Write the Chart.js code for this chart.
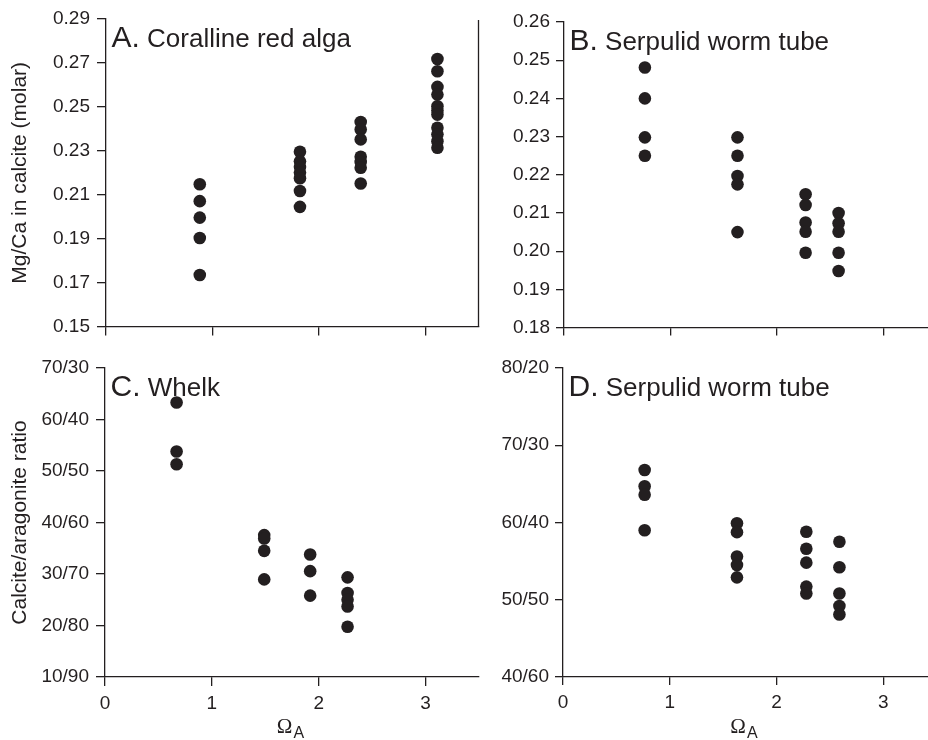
<!DOCTYPE html>
<html lang="en">
<head>
<meta charset="UTF-8">
<title>Mg/Ca and calcite/aragonite ratio vs ΩA</title>
<script src="https://cdn.jsdelivr.net/npm/chart.js"></script>
<style>
  body { margin: 0; background: #fff; }
  .wrap { position: relative; width: 928px; height: 740px; overflow: hidden; }
  .panel { position: absolute; }
  .panel canvas { display: block; }
  #pA { left: 0; top: 0; }
  #pB { left: 480px; top: 0; }
  #pC { left: 0; top: 345px; }
  #pD { left: 480px; top: 345px; }
</style>
</head>
<body>
<div class="wrap">
  <div class="panel" id="pA"><canvas id="chartA" width="480" height="345"></canvas></div>
  <div class="panel" id="pB"><canvas id="chartB" width="448" height="345"></canvas></div>
  <div class="panel" id="pC"><canvas id="chartC" width="480" height="395"></canvas></div>
  <div class="panel" id="pD"><canvas id="chartD" width="448" height="395"></canvas></div>
</div>
<script>
// saturation state (ΩA) of each treatment group, per panel
const omegaAlga = [0.88, 1.82, 2.39, 3.11];
const omegaSerpB = [0.76, 1.63, 2.27, 2.58];
const omegaWhelk = [0.67, 1.49, 1.92, 2.27];
const omegaSerpD = [0.765, 1.63, 2.28, 2.59];

// A. Mg/Ca in calcite, coralline red alga
const mgCaAlga = [
  [0.2148, 0.2071, 0.1996, 0.1903, 0.1735],
  [0.2296, 0.2252, 0.2226, 0.2201, 0.2175, 0.2117, 0.2045],
  [0.2431, 0.2397, 0.2352, 0.2273, 0.2249, 0.2223, 0.2151],
  [0.2718, 0.2662, 0.2591, 0.2556, 0.2503, 0.2484, 0.2465, 0.2405, 0.2375, 0.2344, 0.2314]
];
// B. Mg/Ca in calcite, serpulid worm tube
const mgCaSerpulid = [
  [0.2481, 0.2400, 0.2298, 0.2250],
  [0.2298, 0.2250, 0.2197, 0.2175, 0.2050],
  [0.2149, 0.2121, 0.2075, 0.2051, 0.1996],
  [0.2100, 0.2073, 0.2051, 0.1996, 0.1948]
];
// C. % calcite (calcite/aragonite), whelk
const calciteWhelk = [
  [63.3, 53.8, 51.3],
  [37.55, 36.9, 34.5, 28.95],
  [33.8, 30.55, 25.8],
  [29.35, 26.3, 25.0, 23.7, 19.75]
];
// D. % calcite (calcite/aragonite), serpulid worm tube
const calciteSerpulid = [
  [66.8, 64.7, 63.6, 59.0],
  [59.9, 58.75, 55.6, 54.5, 52.9],
  [58.8, 56.6, 54.8, 51.7, 50.8],
  [57.5, 54.2, 50.8, 49.2, 48.1]
];

const xTicks = [0, 1, 2, 3];
const yTicksA = [0.15, 0.17, 0.19, 0.21, 0.23, 0.25, 0.27, 0.29];
const yTicksB = [0.18, 0.19, 0.20, 0.21, 0.22, 0.23, 0.24, 0.25, 0.26];
const yTicksC = [10, 20, 30, 40, 50, 60, 70];
const yTicksD = [40, 50, 60, 70, 80];

const ink = '#231f20';
const sans = '"Liberation Sans", Arial, Helvetica, sans-serif';

function toPoints(xs, groups) {
  return groups.flatMap((ys, i) => ys.map(y => ({ x: xs[i], y: y })));
}
const fmtMg = v => Number(v).toFixed(2);
const fmtRatio = v => v + '/' + (100 - v);

// panel letter + name, optional right frame line, ΩA axis title with subscript
const panelDecor = {
  id: 'panelDecor',
  afterDraw(chart, args, opts) {
    const { ctx, chartArea: a } = chart;
    ctx.save();
    ctx.fillStyle = ink;
    ctx.strokeStyle = ink;
    ctx.textAlign = 'left';
    ctx.textBaseline = 'alphabetic';

    const x0 = a.left + 5.5;
    const y0 = a.top + 28;
    ctx.font = '30px ' + sans;
    ctx.fillText(opts.letter, x0, y0);
    const w = ctx.measureText(opts.letter).width;
    ctx.font = '26px ' + sans;
    ctx.fillText(' ' + opts.text, x0 + w, y0);

    if (opts.rightFrame) {
      ctx.lineWidth = 1.3;
      ctx.beginPath();
      ctx.moveTo(a.right - 0.5, a.top + 1);
      ctx.lineTo(a.right - 0.5, a.bottom);
      ctx.stroke();
    }

    if (opts.omega) {
      const serifFont = '21px "Liberation Serif", "DejaVu Serif", serif';
      const subFont = '16px ' + sans;
      ctx.font = serifFont;
      const wO = ctx.measureText('Ω').width;
      ctx.font = subFont;
      const wA = ctx.measureText('A').width;
      const x = (a.left + a.right) / 2 - 2 - (wO + wA) / 2;
      const y = chart.height - 7;
      ctx.font = serifFont;
      ctx.fillText('Ω', x, y);
      ctx.font = subFont;
      ctx.fillText('A', x + wO + 1, y + 5);
    }
    ctx.restore();
  }
};

function makePanel(id, cfg) {
  const grid = {
    display: true,
    drawOnChartArea: false,
    drawTicks: true,
    tickLength: cfg.tickLen,
    color: ink,
    lineWidth: 1.3
  };
  return new Chart(document.getElementById(id), {
    type: 'scatter',
    data: {
      datasets: [{
        data: toPoints(cfg.xs, cfg.groups),
        backgroundColor: ink,
        borderWidth: 0,
        pointRadius: 6.3,
        pointHoverRadius: 6.3
      }]
    },
    options: {
      responsive: false,
      animation: false,
      layout: {
        autoPadding: false,
        padding: { top: cfg.padTop, right: cfg.padRight, left: 0, bottom: 0 }
      },
      plugins: {
        legend: { display: false },
        tooltip: { enabled: false },
        panelDecor: { letter: cfg.letter, text: cfg.text, rightFrame: cfg.rightFrame, omega: cfg.omega }
      },
      scales: {
        x: {
          type: 'linear',
          min: 0,
          max: cfg.xMax,
          afterBuildTicks: s => { s.ticks = xTicks.map(v => ({ value: v })); },
          afterFit: s => { s.height = cfg.xHeight; },
          border: { display: true, color: ink, width: 1.3 },
          grid: grid,
          ticks: {
            display: cfg.xLabels,
            color: ink,
            padding: 6,
            font: { family: sans, size: 19 },
            maxRotation: 0
          }
        },
        y: {
          type: 'linear',
          min: cfg.yTicks[0],
          max: cfg.yTicks[cfg.yTicks.length - 1],
          afterBuildTicks: s => { s.ticks = cfg.yTicks.map(v => ({ value: v })); },
          afterFit: s => { s.width = cfg.yWidth; },
          border: { display: true, color: ink, width: 1.3 },
          grid: grid,
          title: {
            display: !!cfg.yTitle,
            text: cfg.yTitle || '',
            color: ink,
            font: { family: sans, size: 21 },
            padding: { top: 8, bottom: 0 }
          },
          ticks: {
            color: ink,
            padding: cfg.tickPad,
            font: { family: sans, size: 19 },
            callback: v => cfg.fmt(v)
          }
        }
      }
    },
    plugins: [panelDecor]
  });
}

makePanel('chartA', {
  xs: omegaAlga, groups: mgCaAlga, yTicks: yTicksA, fmt: fmtMg,
  letter: 'A.', text: 'Coralline red alga', yTitle: 'Mg/Ca in calcite (molar)',
  padTop: 19, padRight: 1, yWidth: 106, xHeight: 17, xMax: 3.5, xLabels: false,
  tickLen: 9, tickPad: 7, rightFrame: true, omega: false
});
makePanel('chartB', {
  xs: omegaSerpB, groups: mgCaSerpulid, yTicks: yTicksB, fmt: fmtMg,
  letter: 'B.', text: 'Serpulid worm tube', yTitle: null,
  padTop: 22, padRight: 0, yWidth: 84, xHeight: 17, xMax: 3.42, xLabels: false,
  tickLen: 8, tickPad: 6, rightFrame: false, omega: false
});
makePanel('chartC', {
  xs: omegaWhelk, groups: calciteWhelk, yTicks: yTicksC, fmt: fmtRatio,
  letter: 'C.', text: 'Whelk', yTitle: 'Calcite/aragonite ratio',
  padTop: 23, padRight: 1, yWidth: 105, xHeight: 63, xMax: 3.5, xLabels: true,
  tickLen: 9, tickPad: 7, rightFrame: false, omega: true
});
makePanel('chartD', {
  xs: omegaSerpD, groups: calciteSerpulid, yTicks: yTicksD, fmt: fmtRatio,
  letter: 'D.', text: 'Serpulid worm tube', yTitle: null,
  padTop: 23, padRight: 0, yWidth: 83, xHeight: 63, xMax: 3.42, xLabels: true,
  tickLen: 8, tickPad: 6, rightFrame: false, omega: true
});
</script>
</body>
</html>
